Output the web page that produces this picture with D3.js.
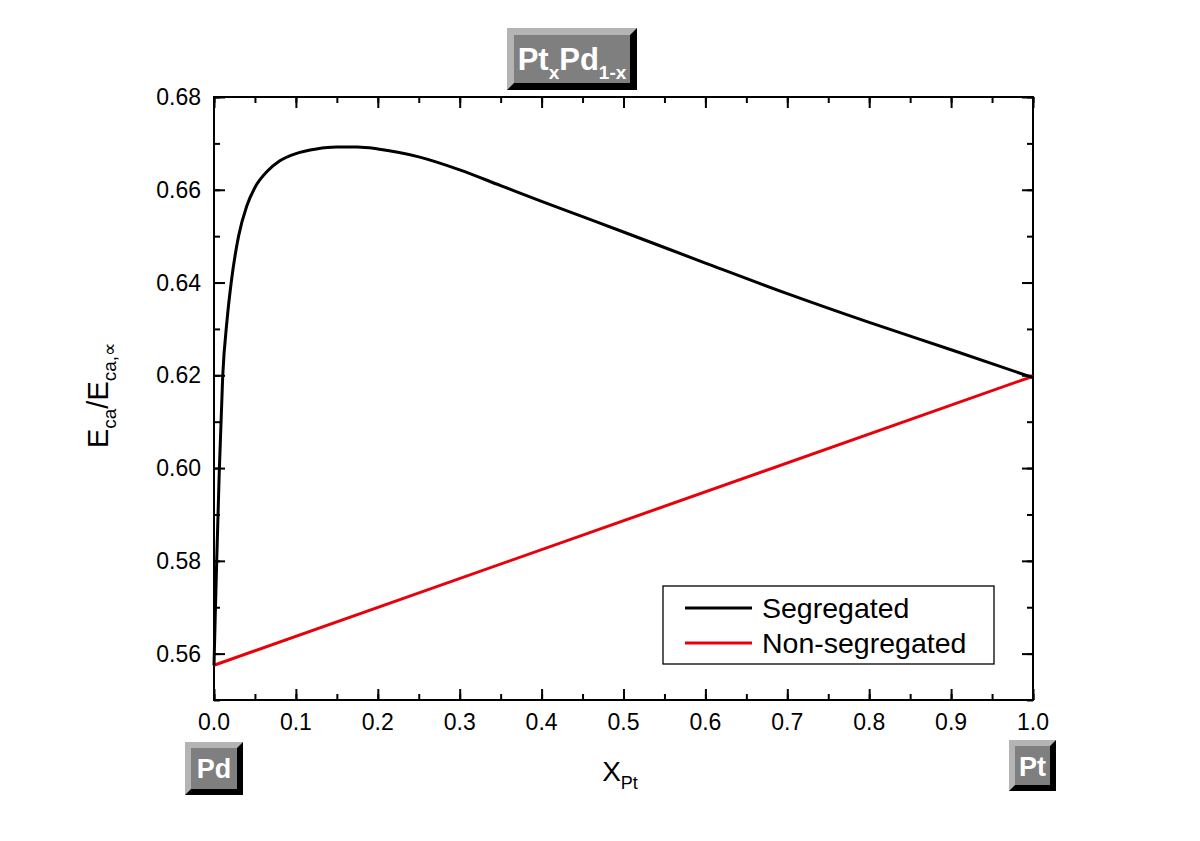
<!DOCTYPE html>
<html><head><meta charset="utf-8">
<script src="https://cdn.jsdelivr.net/npm/d3@7"></script>
<style>body{margin:0;background:#fff;}svg{display:block;font-family:Arial,"Liberation Sans",sans-serif;}</style>
</head><body>
<svg id="c" width="1200" height="841"></svg>
<script>
const xTicks = [0,0.1,0.2,0.3,0.4,0.5,0.6,0.7,0.8,0.9,1.0];
const yTicks = [0.56,0.58,0.60,0.62,0.64,0.66,0.68];
const segX = [0,0.0015,0.0033,0.0065,0.0106,0.016,0.021,0.030,0.040,0.050,0.065,0.080,0.100,0.125,0.150,0.175,0.200,0.250,0.300,0.350,0.400,0.450,0.500,0.600,0.700,0.800,0.900,1.000];
const segY = [0.5575,0.568,0.580,0.5996,0.6197,0.632,0.6400,0.6500,0.6565,0.6605,0.6640,0.6662,0.6678,0.6688,0.6692,0.6692,0.6688,0.6671,0.6643,0.6609,0.6575,0.6542,0.6509,0.6442,0.6376,0.6314,0.6255,0.6195];
const nonX = [0,1.0];
const nonY = [0.5575,0.6198];
const seriesNames = ["Segregated","Non-segregated"];
const seriesColors = ["#000000","#e8000b"];

const svg = d3.select("#c");
const L=214,R=1033,T=97,B=700;
const x = d3.scaleLinear().domain([0,1]).range([L,R]);
const y = d3.scaleLinear().domain([0.55,0.68]).range([B,T]);

const minorX = d3.range(0,1.0001,0.05);
const minorY = d3.range(0.55,0.6801,0.01);

// minor ticks (inward)
svg.append("g").attr("transform",`translate(0,${B})`).call(d3.axisTop(x).tickValues(minorX).tickSize(6).tickFormat(""));
svg.append("g").attr("transform",`translate(0,${T})`).call(d3.axisBottom(x).tickValues(minorX).tickSize(6).tickFormat(""));
svg.append("g").attr("transform",`translate(${L},0)`).call(d3.axisRight(y).tickValues(minorY).tickSize(6).tickFormat(""));
svg.append("g").attr("transform",`translate(${R},0)`).call(d3.axisLeft(y).tickValues(minorY).tickSize(6).tickFormat(""));
// major ticks
svg.append("g").attr("transform",`translate(0,${B})`).call(d3.axisTop(x).tickValues(xTicks).tickSize(11).tickFormat(""));
svg.append("g").attr("transform",`translate(0,${T})`).call(d3.axisBottom(x).tickValues(xTicks).tickSize(11).tickFormat(""));
svg.append("g").attr("transform",`translate(${L},0)`).call(d3.axisRight(y).tickValues(yTicks).tickSize(11).tickFormat(""));
svg.append("g").attr("transform",`translate(${R},0)`).call(d3.axisLeft(y).tickValues(yTicks).tickSize(11).tickFormat(""));
svg.selectAll(".domain").remove();
svg.selectAll(".tick line").attr("stroke","#000").attr("stroke-width",2);

// tick labels
svg.append("g").selectAll("text").data(xTicks).join("text")
  .attr("x",d=>x(d)).attr("y",730).attr("text-anchor","middle")
  .attr("font-size",23).text(d=>d.toFixed(1));
svg.append("g").selectAll("text").data(yTicks).join("text")
  .attr("x",201).attr("y",d=>y(d)+8).attr("text-anchor","end")
  .attr("font-size",23).text(d=>d.toFixed(2));

// frame
svg.append("rect").attr("x",L).attr("y",T).attr("width",R-L).attr("height",B-T)
  .attr("fill","none").attr("stroke","#000").attr("stroke-width",2);

// lines
const line = d3.line().x(d=>x(d[0])).y(d=>y(d[1])).curve(d3.curveMonotoneX);
svg.append("path").datum(nonX.map((v,i)=>[v,nonY[i]])).attr("d",line)
  .attr("fill","none").attr("stroke",seriesColors[1]).attr("stroke-width",3);
svg.append("path").datum(segX.map((v,i)=>[v,segY[i]])).attr("d",line)
  .attr("fill","none").attr("stroke",seriesColors[0]).attr("stroke-width",3);

// legend
const lg = svg.append("g");
lg.append("rect").attr("x",663).attr("y",586).attr("width",331).attr("height",78)
  .attr("fill","#fff").attr("stroke","#000").attr("stroke-width",1.3);
seriesNames.forEach((n,i)=>{
  const yy = 608 + i*35;
  lg.append("line").attr("x1",685).attr("x2",752).attr("y1",yy).attr("y2",yy)
    .attr("stroke",seriesColors[i]).attr("stroke-width",3);
  lg.append("text").attr("x",762).attr("y",yy+10).attr("font-size",28.5).text(n);
});

// axis titles
const yl = svg.append("text").attr("transform","translate(108,395) rotate(-90)")
  .attr("text-anchor","middle").attr("font-size",29);
yl.append("tspan").text("E");
yl.append("tspan").attr("font-size",19).attr("dy",8).text("ca");
yl.append("tspan").attr("dy",-8).text("/E");
yl.append("tspan").attr("font-size",19).attr("dy",8).text("ca,∝");

const xl = svg.append("text").attr("x",620).attr("y",781).attr("text-anchor","middle").attr("font-size",28);
xl.append("tspan").text("X");
xl.append("tspan").attr("font-size",18).attr("dy",8).text("Pt");

// bevel boxes
function bevel(x0,y0,w,h,b){
  const g = svg.append("g");
  g.append("rect").attr("x",x0).attr("y",y0).attr("width",w).attr("height",h).attr("fill","#000");
  g.append("path").attr("d",`M${x0},${y0}H${x0+w}L${x0+w-b},${y0+b}H${x0+b}V${y0+h-b}L${x0},${y0+h}Z`).attr("fill","#b4b4b4");
  g.append("rect").attr("x",x0+b).attr("y",y0+b).attr("width",w-2*b).attr("height",h-2*b).attr("fill","#7f7f7f");
  return g;
}
const g1 = bevel(507,28,130,62,7);
const t1 = g1.append("text").attr("x",572).attr("y",70).attr("text-anchor","middle").attr("fill","#fff").attr("font-weight","bold").attr("font-size",31);
t1.append("tspan").text("Pt");
t1.append("tspan").attr("font-size",19).attr("dy",9).text("x");
t1.append("tspan").attr("dy",-9).text("Pd");
t1.append("tspan").attr("font-size",19).attr("dy",9).text("1-x");

const g2 = bevel(185,742,58,53,6);
g2.append("text").attr("x",214).attr("y",778).attr("text-anchor","middle").attr("fill","#fff").attr("font-weight","bold").attr("font-size",27).text("Pd");
const g3 = bevel(1009,740,47,51,6);
g3.append("text").attr("x",1032.5).attr("y",776).attr("text-anchor","middle").attr("fill","#fff").attr("font-weight","bold").attr("font-size",27).text("Pt");
</script>
</body></html>
